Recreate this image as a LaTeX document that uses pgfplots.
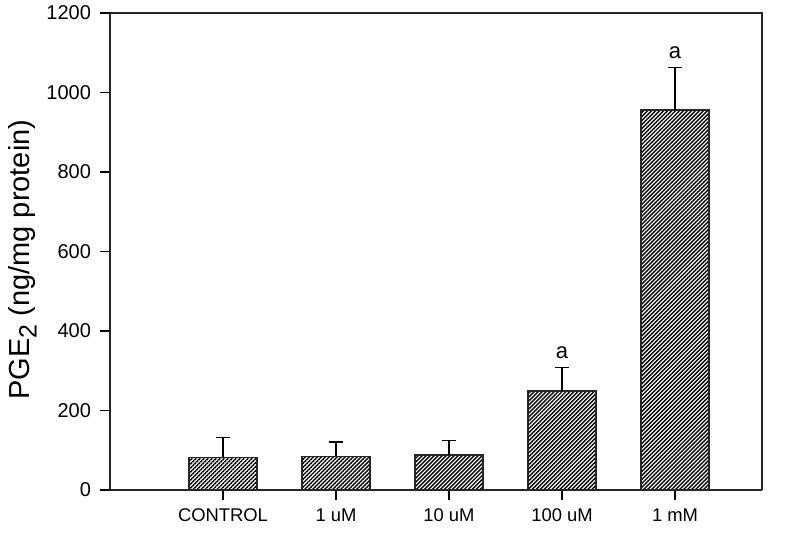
\documentclass[border=0pt]{standalone}
\usepackage{pgfplots}
\pgfplotsset{compat=1.18}
\usepackage{fontspec}
\setmainfont{Liberation Sans}
\usetikzlibrary{patterns.meta}
\begin{document}
\begin{tikzpicture}
\begin{axis}[
    name=ax,
    scale only axis,
    width=326pt,
    height=238.5pt,
    xmin=0, xmax=5.77,
    ymin=0, ymax=1200,
    ytick={0,200,...,1200},
    xtick={1,2,3,4,5},
    xticklabels={CONTROL,1 uM,10 uM,100 uM,1 mM},
    axis x line*=bottom,
    axis y line*=left,
    tick align=outside,
    major tick length=5pt,
    tick style={line width=0.6pt, black},
    axis line style={line width=0.6pt, black!85},
    /pgf/number format/assume math mode=true,
    /pgf/number format/1000 sep={},
    yticklabel style={font=\fontsize{10}{12}\selectfont, xshift=-1pt},
    xticklabel style={font=\fontsize{9.2}{11}\selectfont, yshift=-1pt},
    ylabel={PGE\raisebox{-0.5ex}{\fontsize{12.5}{13}\selectfont 2} (ng/mg protein)},
    ylabel style={font=\fontsize{14.5}{16}\selectfont, at={(ticklabel cs:0.483)}, yshift=-2pt},
    clip=false,
]
\draw[line width=0.6pt, black!85] (rel axis cs:0,1) -- (rel axis cs:1,1) -- (rel axis cs:1,0);
\addplot[
    ybar, bar width=0.6,
    draw=black!85, line width=0.7pt,
    pattern={Lines[angle=45, distance=1.41pt, line width=0.7pt]},
    error bars/.cd,
      y dir=plus, y explicit,
      error mark=|,
      error bar style={line width=0.6pt, black},
      error mark options={rotate=0, mark size=3.7pt, line width=0.6pt, black},
    ]
    table[x=x, y=y, y error=e] {
    x y e
    1 82 51
    2 85 36
    3 88 36
    4 249 60
    5 956 107
    };
\node[font=\fontsize{11}{12}\selectfont, anchor=south] at (axis cs:4,313) {a};
\node[font=\fontsize{11}{12}\selectfont, anchor=south] at (axis cs:5,1066) {a};
\end{axis}
\pgfresetboundingbox
\path ([shift={(-55pt,-22.5pt)}]ax.south west) rectangle ([shift={(19pt,6.5pt)}]ax.north east);
\end{tikzpicture}
\end{document}
